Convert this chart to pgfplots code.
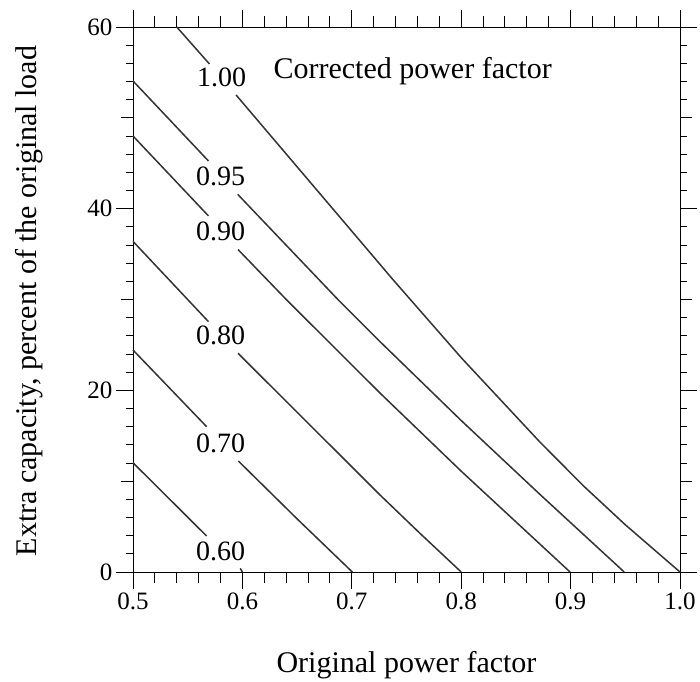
\documentclass[border=0pt]{standalone}
\usepackage{fontspec}
\setmainfont{Liberation Serif}
\usepackage{pgfplots}
\pgfplotsset{compat=1.18}
\begin{document}
\begin{tikzpicture}
\useasboundingbox (-133pt,-109pt) rectangle (567pt,572pt);
\begin{axis}[
  at={(0pt,0pt)}, anchor=south west,
  scale only axis, width=547pt, height=545pt,
  xmin=0.5, xmax=1.0, ymin=0, ymax=60,
  xtick={0.5,0.6,0.7,0.8,0.9,1.0},
  ytick={0,20,40,60},
  minor y tick num=9,
  extra x ticks={0.52,0.54,0.56,0.58,0.62,0.64,0.66,0.68,0.72,0.74,0.76,0.78,0.82,0.84,0.86,0.88,0.92,0.94,0.96,0.98},
  extra x tick labels={},
  extra x tick style={major tick length=11pt},
  extra y ticks={10,30,50}, extra y tick labels={},
  extra y tick style={major tick length=12pt},
  tick align=outside, tick pos=both,
  major tick length=17pt, minor tick length=7pt,
  every tick/.style={black, line width=1pt},
  axis line style={black, line width=1pt},
  /pgf/number format/assume math mode=true,
  xticklabel style={/pgf/number format/fixed, /pgf/number format/fixed zerofill, /pgf/number format/precision=1},
  ticklabel style={font=\fontsize{25}{30}\selectfont},
  clip=false,
]
\pgfplotsset{cv/.style={black!80, solid, line width=1.5pt, mark=none, line join=round}}
% corrected pf = 1.00
\addplot[cv] coordinates {(0.540,60.0) (0.5698,55.94)};
\addplot[cv] coordinates {(0.5942,52.52) (0.7379,32.15) (0.8005,23.53) (0.8720,14.3) (0.9116,9.5) (0.95,5.2) (1.0,0)};
% 0.95
\addplot[cv] coordinates {(0.5,54.06) (0.569,45.25)};
\addplot[cv] coordinates {(0.5957,41.58) (0.6877,29.95) (0.7258,25.36) (0.8004,16.63) (0.872,8.54) (0.949,0)};
% 0.90
\addplot[cv] coordinates {(0.5,48.0) (0.569,39.2)};
\addplot[cv] coordinates {(0.596,35.5) (0.6405,29.95) (0.7258,19.7) (0.80,11.1) (0.8995,0)};
% 0.80
\addplot[cv] coordinates {(0.5,36.4) (0.569,27.56)};
\addplot[cv] coordinates {(0.596,24.08) (0.7258,8.48) (0.7623,4.26) (0.80,0)};
% 0.70
\addplot[cv] coordinates {(0.5,24.44) (0.5673,16.0)};
\addplot[cv] coordinates {(0.5963,12.22) (0.65,5.85) (0.7005,0)};
% 0.60
\addplot[cv] coordinates {(0.5,12.03) (0.5673,3.96)};
\addplot[cv] coordinates {(0.598,0.4) (0.6,0)};
\begin{scope}[every node/.style={font=\fontsize{28}{32}\selectfont, inner sep=0pt, anchor=center}]
\node at (axis cs:0.581,54.5) {1.00};
\node at (axis cs:0.580,43.6) {0.95};
\node at (axis cs:0.580,37.5) {0.90};
\node at (axis cs:0.580,26.1) {0.80};
\node at (axis cs:0.580,14.2) {0.70};
\node at (axis cs:0.580,2.3) {0.60};
\end{scope}
\node[font=\fontsize{30}{34}\selectfont, inner sep=0pt, anchor=base west] at (axis cs:0.6283,54.28) {Corrected power factor};
\end{axis}
\node[font=\fontsize{30}{34}\selectfont, inner sep=0pt, anchor=base] at (273.5pt,-100pt) {Original power factor};
\node[font=\fontsize{30}{34}\selectfont, inner sep=0pt, anchor=base, rotate=90] at (-96pt,271pt) {Extra capacity, percent of the original load};
\end{tikzpicture}
\end{document}
